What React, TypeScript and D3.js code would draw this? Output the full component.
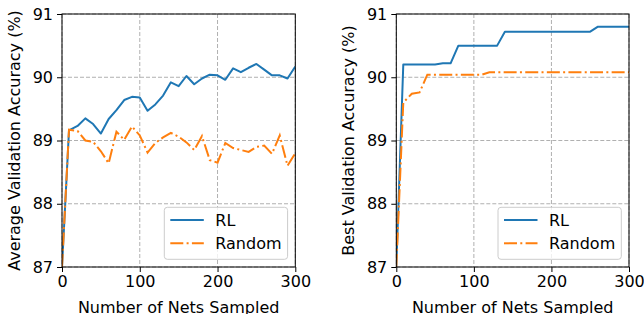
import React, { useEffect, useRef } from 'react'
import * as d3 from 'd3'

// number of nets sampled (x positions of the recorded points)
const netsSampled = [
  0, 9, 20, 30, 40, 50, 60, 70, 80, 90, 100, 110, 120, 130, 140, 150, 160, 170, 180, 190, 200,
  210, 220, 230, 240, 250, 260, 270, 280, 290, 300,
]

const avgRL = [
  87.0, 89.16, 89.23, 89.35, 89.26, 89.11, 89.34, 89.48, 89.64, 89.69, 89.68, 89.47, 89.57, 89.71,
  89.92, 89.86, 90.02, 89.89, 89.98, 90.04, 90.03, 89.96, 90.14, 90.08, 90.15, 90.21, 90.12, 90.03,
  90.03, 89.98, 90.17,
]
const avgRandom = [
  87.0, 89.17, 89.15, 89.0, 88.98, 88.83, 88.64, 89.14, 89.01, 89.22, 89.08, 88.81, 88.96, 89.05,
  89.12, 89.06, 88.97, 88.85, 89.07, 88.69, 88.65, 88.96, 88.88, 88.85, 88.82, 88.9, 88.92, 88.79,
  89.08, 88.6, 88.8,
]
const bestRL = [
  87.0, 90.2, 90.2, 90.2, 90.2, 90.2, 90.22, 90.22, 90.5, 90.5, 90.5, 90.5, 90.5, 90.5, 90.72,
  90.72, 90.72, 90.72, 90.72, 90.72, 90.72, 90.72, 90.72, 90.72, 90.72, 90.72, 90.8, 90.8, 90.8,
  90.8, 90.8,
]
const bestRandom = [
  87.0, 89.6, 89.74, 89.76, 90.04, 90.04, 90.04, 90.04, 90.04, 90.04, 90.04, 90.04, 90.08, 90.08,
  90.08, 90.08, 90.08, 90.08, 90.08, 90.08, 90.08, 90.08, 90.08, 90.08, 90.08, 90.08, 90.08, 90.08,
  90.08, 90.08, 90.08,
]

const xTicks = [0, 100, 200, 300]
const yTicks = [87, 88, 89, 90, 91]
const seriesNames = ['RL', 'Random']

const FONT = 'DejaVu Sans'
const FS = 16
const BLUE = '#1f77b4'
const ORANGE = '#ff7f0e'

const panels = [
  { left: 62, right: 295.3, label: 'Average Validation Accuracy (%)', rl: avgRL, rnd: avgRandom, id: 'a' },
  { left: 396.3, right: 629, label: 'Best Validation Accuracy (%)', rl: bestRL, rnd: bestRandom, id: 'b' },
]

export default function App() {
  const ref = useRef(null)

  useEffect(() => {
    const svg = d3.select(ref.current)
    svg.selectAll('*').remove()
    const top = 14
    const bottom = 267

    panels.forEach((p) => {
      const x = d3.scaleLinear().domain([0, 300]).range([p.left, p.right])
      const y = d3.scaleLinear().domain([87, 91]).range([bottom, top])
      const g = svg.append('g')

      svg
        .append('clipPath')
        .attr('id', 'clip-' + p.id)
        .append('rect')
        .attr('x', p.left)
        .attr('y', top)
        .attr('width', p.right - p.left)
        .attr('height', bottom - top)

      // grid
      const grid = g.append('g').attr('stroke', '#b0b0b0').attr('stroke-width', 1).attr('stroke-dasharray', '4,2')
      xTicks.forEach((t) => {
        grid.append('line').attr('x1', x(t)).attr('x2', x(t)).attr('y1', top).attr('y2', bottom)
      })
      yTicks.forEach((t) => {
        grid.append('line').attr('x1', p.left).attr('x2', p.right).attr('y1', y(t)).attr('y2', y(t))
      })

      const line = d3
        .line<number>()
        .x((_, i) => x(netsSampled[i]))
        .y((d) => y(d))

      const lines = g.append('g').attr('clip-path', `url(#clip-${p.id})`)
      lines
        .append('path')
        .attr('d', line(p.rl))
        .attr('fill', 'none')
        .attr('stroke', BLUE)
        .attr('stroke-width', 2)
        .attr('stroke-linejoin', 'round')
      lines
        .append('path')
        .attr('d', line(p.rnd))
        .attr('fill', 'none')
        .attr('stroke', ORANGE)
        .attr('stroke-width', 2)
        .attr('stroke-dasharray', '13,3.3,2,3.3')

      // axes
      const xAxis = g
        .append('g')
        .attr('transform', `translate(0,${bottom})`)
        .call(d3.axisBottom(x).tickValues(xTicks).tickSize(5).tickPadding(4).tickFormat(d3.format('d')))
      const yAxis = g
        .append('g')
        .attr('transform', `translate(${p.left},0)`)
        .call(d3.axisLeft(y).tickValues(yTicks).tickSize(5).tickPadding(4).tickFormat(d3.format('d')))
      ;[xAxis, yAxis].forEach((a) => {
        a.select('.domain').remove()
        a.selectAll('line').attr('stroke', '#000').attr('stroke-width', 1)
        a.selectAll('text').attr('font-family', FONT).attr('font-size', FS).attr('fill', '#000')
      })

      // frame
      g.append('rect')
        .attr('x', p.left)
        .attr('y', top)
        .attr('width', p.right - p.left)
        .attr('height', bottom - top)
        .attr('fill', 'none')
        .attr('stroke', '#000')
        .attr('stroke-width', 1)

      // axis labels
      g.append('text')
        .attr('x', (p.left + p.right) / 2)
        .attr('y', 312.5)
        .attr('text-anchor', 'middle')
        .attr('font-family', FONT)
        .attr('font-size', FS)
        .text('Number of Nets Sampled')
      g.append('text')
        .attr('transform', `translate(${p.left - 42},${(top + bottom) / 2}) rotate(-90)`)
        .attr('text-anchor', 'middle')
        .attr('font-family', FONT)
        .attr('font-size', FS)
        .text(p.label)

      // legend
      const lx = p.right - 131
      const ly = 207.3
      const legend = g.append('g')
      legend
        .append('rect')
        .attr('x', lx)
        .attr('y', ly)
        .attr('width', 123.3)
        .attr('height', 52)
        .attr('rx', 3)
        .attr('fill', '#fff')
        .attr('fill-opacity', 0.8)
        .attr('stroke', '#cccccc')
        .attr('stroke-width', 1)
      seriesNames.forEach((name, i) => {
        const yy = ly + 12.7 + i * 23.3
        legend
          .append('line')
          .attr('x1', lx + 6)
          .attr('x2', lx + 39.5)
          .attr('y1', yy)
          .attr('y2', yy)
          .attr('stroke', i === 0 ? BLUE : ORANGE)
          .attr('stroke-width', 2)
          .attr('stroke-dasharray', i === 0 ? null : '13,3.3,2,3.3')
        legend
          .append('text')
          .attr('x', lx + 51)
          .attr('y', yy + 5.7)
          .attr('font-family', FONT)
          .attr('font-size', FS)
          .text(name)
      })
    })
  }, [])

  return (
    <div style={{ position: 'absolute', left: 0, top: 0 }}>
      <svg ref={ref} width={644} height={314} style={{ display: 'block', background: '#fff' }}></svg>
    </div>
  )
}
